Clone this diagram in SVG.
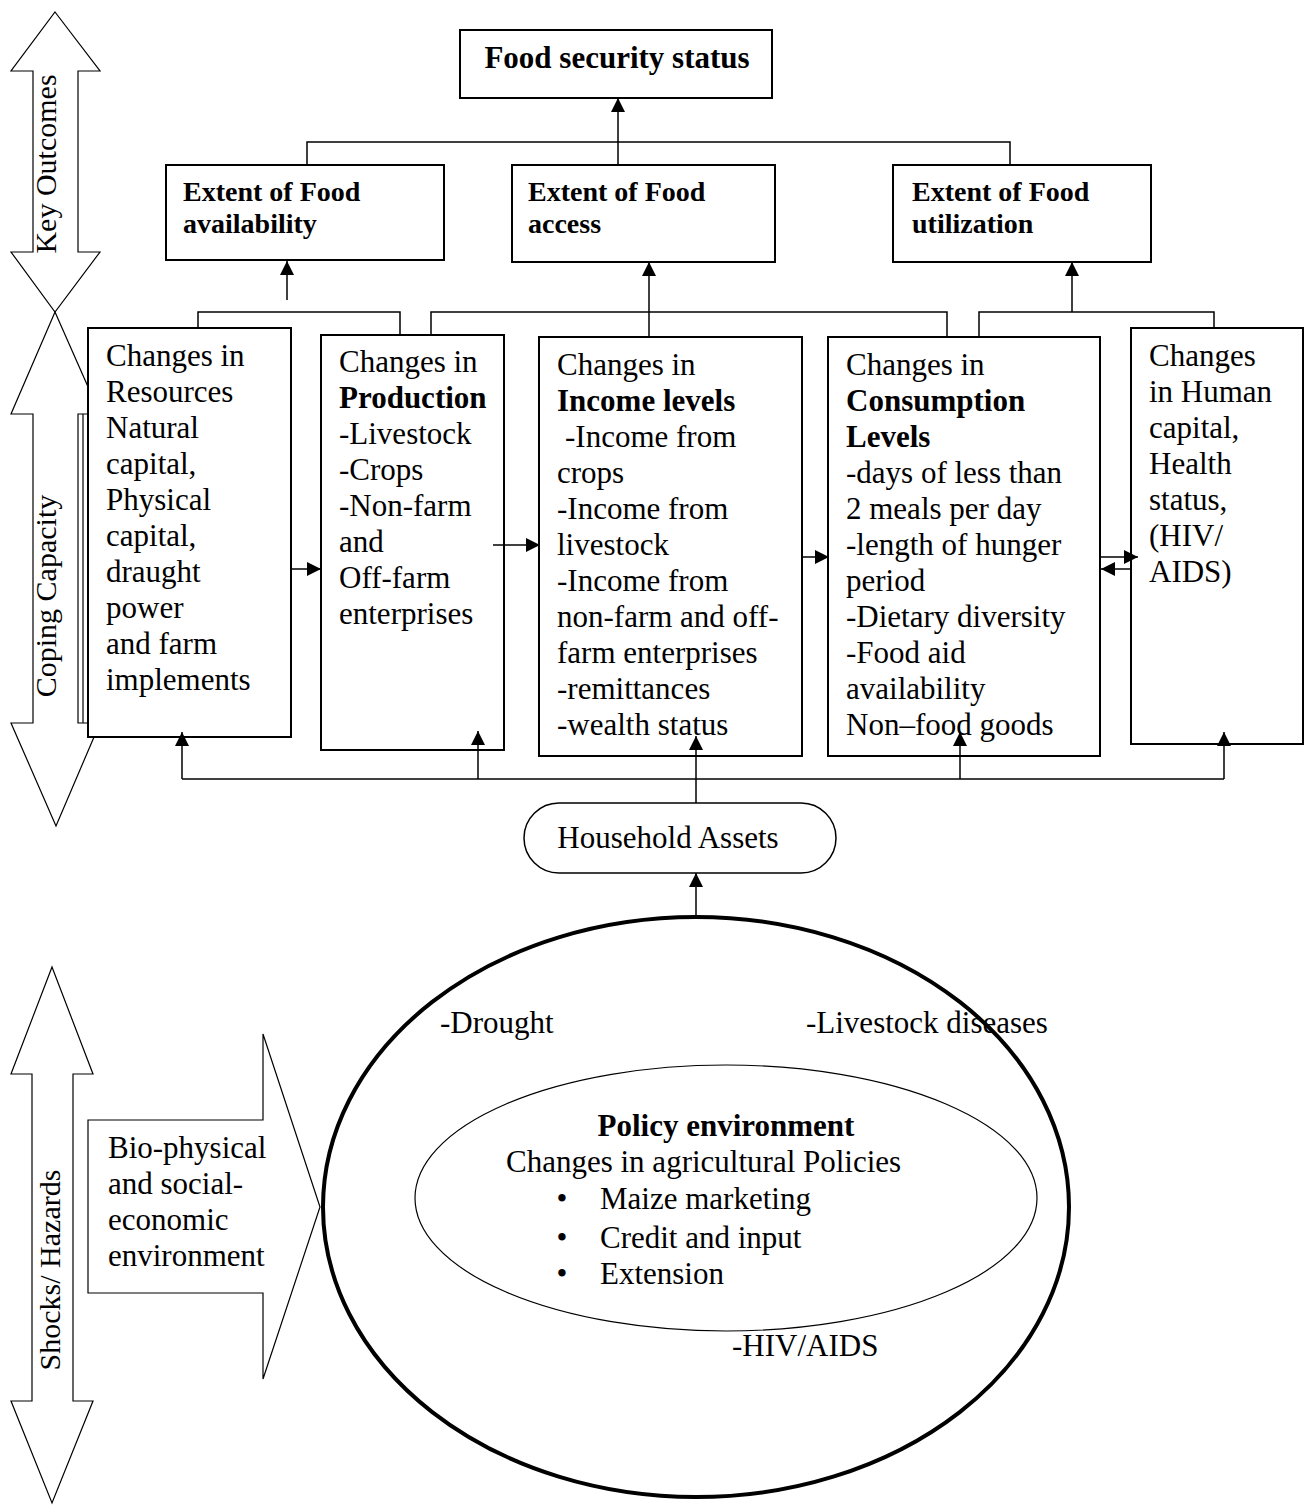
<svg xmlns="http://www.w3.org/2000/svg" width="1305" height="1506" viewBox="0 0 1305 1506">
<style>
  text { font-family: "Liberation Serif", "Times New Roman", serif; fill: #000; }
  .t { font-size: 31px; }
  .b { font-size: 31px; font-weight: bold; }
  .hb { font-size: 28px; font-weight: bold; }
  .lab { font-size: 30px; }
  .box { fill: #fff; stroke: #000; stroke-width: 2; }
  .blk { fill: none; stroke: #000; stroke-width: 1.2; }
  .con { fill: none; stroke: #000; stroke-width: 1.5; }
</style>
<defs>
  <marker id="ah" markerUnits="userSpaceOnUse" markerWidth="15" markerHeight="15" refX="14" refY="7" orient="auto">
    <path d="M0,0 L14,7 L0,14 z" fill="#000"/>
  </marker>
</defs>
<rect width="1305" height="1506" fill="#fff"/>

<!-- side block arrows -->
<g id="key-outcomes-arrow">
  <polygon class="blk" points="55,12 100,71 78,71 78,252 100,252 55,312 11,252 33,252 33,71 11,71"/>
  <text class="lab" transform="translate(56,164) rotate(-90)" text-anchor="middle">Key Outcomes</text>
</g>
<g id="coping-capacity-arrow">
  <polygon class="blk" points="55,312 100,414 78,414 78,723 100,723 56,826 11,723 33,723 33,414 11,414"/>
  <line class="blk" x1="83" y1="414" x2="83" y2="723"/>
  <text class="lab" transform="translate(56,596) rotate(-90)" text-anchor="middle">Coping Capacity</text>
</g>
<g id="shocks-arrow">
  <polygon class="blk" points="52,967 93,1074 73,1074 73,1401 93,1401 52,1503 11,1401 32,1401 32,1074 11,1074"/>
  <text class="lab" transform="translate(60,1270) rotate(-90)" text-anchor="middle">Shocks/ Hazards</text>
</g>
<g id="biophysical-arrow">
  <polygon class="blk" points="88,1120 263,1120 263,1034 320,1207 263,1379 263,1293 88,1293"/>
  <text class="t" x="108" y="1158">Bio-physical</text>
  <text class="t" x="108" y="1194">and social-</text>
  <text class="t" x="108" y="1230">economic</text>
  <text class="t" x="108" y="1266">environment</text>
</g>

<!-- top boxes -->
<g id="food-security">
  <rect class="box" x="460" y="30" width="312" height="68"/>
  <text class="b" x="617" y="68" text-anchor="middle">Food security status</text>
</g>
<g id="availability">
  <rect class="box" x="166" y="165" width="278" height="95"/>
  <text class="hb" x="183" y="201">Extent of Food</text>
  <text class="hb" x="183" y="233">availability</text>
</g>
<g id="access">
  <rect class="box" x="512" y="165" width="263" height="97"/>
  <text class="hb" x="528" y="201">Extent of Food</text>
  <text class="hb" x="528" y="233">access</text>
</g>
<g id="utilization">
  <rect class="box" x="893" y="165" width="258" height="97"/>
  <text class="hb" x="912" y="201">Extent of Food</text>
  <text class="hb" x="912" y="233">utilization</text>
</g>

<!-- middle boxes -->
<g id="resources">
  <rect class="box" x="88" y="328" width="203" height="409"/>
  <text class="t" x="106" y="366">Changes in</text>
  <text class="t" x="106" y="402">Resources</text>
  <text class="t" x="106" y="438">Natural</text>
  <text class="t" x="106" y="474">capital,</text>
  <text class="t" x="106" y="510">Physical</text>
  <text class="t" x="106" y="546">capital,</text>
  <text class="t" x="106" y="582">draught</text>
  <text class="t" x="106" y="618">power</text>
  <text class="t" x="106" y="654">and farm</text>
  <text class="t" x="106" y="690">implements</text>
</g>
<g id="production">
  <rect class="box" x="321" y="335" width="183" height="415"/>
  <text class="t" x="339" y="372">Changes in</text>
  <text class="b" x="339" y="408">Production</text>
  <text class="t" x="339" y="444">-Livestock</text>
  <text class="t" x="339" y="480">-Crops</text>
  <text class="t" x="339" y="516">-Non-farm</text>
  <text class="t" x="339" y="552">and</text>
  <text class="t" x="339" y="588">Off-farm</text>
  <text class="t" x="339" y="624">enterprises</text>
</g>
<g id="income">
  <rect class="box" x="539" y="337" width="263" height="419"/>
  <text class="t" x="557" y="375">Changes in</text>
  <text class="b" x="557" y="411">Income levels</text>
  <text class="t" x="565" y="447">-Income from</text>
  <text class="t" x="557" y="483">crops</text>
  <text class="t" x="557" y="519">-Income from</text>
  <text class="t" x="557" y="555">livestock</text>
  <text class="t" x="557" y="591">-Income from</text>
  <text class="t" x="557" y="627">non-farm and off-</text>
  <text class="t" x="557" y="663">farm enterprises</text>
  <text class="t" x="557" y="699">-remittances</text>
  <text class="t" x="557" y="735">-wealth status</text>
</g>
<g id="consumption">
  <rect class="box" x="828" y="337" width="272" height="419"/>
  <text class="t" x="846" y="375">Changes in</text>
  <text class="b" x="846" y="411">Consumption</text>
  <text class="b" x="846" y="447">Levels</text>
  <text class="t" x="846" y="483">-days of less than</text>
  <text class="t" x="846" y="519">2 meals per day</text>
  <text class="t" x="846" y="555">-length of hunger</text>
  <text class="t" x="846" y="591">period</text>
  <text class="t" x="846" y="627">-Dietary diversity</text>
  <text class="t" x="846" y="663">-Food aid</text>
  <text class="t" x="846" y="699">availability</text>
  <text class="t" x="846" y="735">Non–food goods</text>
</g>
<g id="human-capital">
  <rect class="box" x="1131" y="328" width="172" height="416"/>
  <text class="t" x="1149" y="366">Changes</text>
  <text class="t" x="1149" y="402">in Human</text>
  <text class="t" x="1149" y="438">capital,</text>
  <text class="t" x="1149" y="474">Health</text>
  <text class="t" x="1149" y="510">status,</text>
  <text class="t" x="1149" y="546">(HIV/</text>
  <text class="t" x="1149" y="582">AIDS)</text>
</g>

<g id="household-assets">
  <rect x="524" y="803" width="312" height="70" rx="35" ry="35" fill="#fff" stroke="#000" stroke-width="1.5"/>
  <text class="t" x="668" y="848" text-anchor="middle">Household Assets</text>
</g>

<g id="shocks-ellipse">
  <ellipse cx="696" cy="1207" rx="373" ry="290" fill="none" stroke="#000" stroke-width="4"/>
  <text class="t" x="440" y="1033">-Drought</text>
  <text class="t" x="806" y="1033">-Livestock diseases</text>
  <text class="t" x="732" y="1356">-HIV/AIDS</text>
</g>
<g id="policy-environment">
  <ellipse cx="726" cy="1198" rx="311" ry="133" fill="none" stroke="#000" stroke-width="1.2"/>
  <text class="b" x="726" y="1136" text-anchor="middle">Policy environment</text>
  <text class="t" x="506" y="1172">Changes in agricultural Policies</text>
  <text class="t" x="562" y="1209" text-anchor="middle">•</text>
  <text class="t" x="600" y="1209">Maize marketing</text>
  <text class="t" x="562" y="1248" text-anchor="middle">•</text>
  <text class="t" x="600" y="1248">Credit and input</text>
  <text class="t" x="562" y="1284" text-anchor="middle">•</text>
  <text class="t" x="600" y="1284">Extension</text>
</g>

<!-- connectors -->
<g id="connectors">
  <polyline class="con" points="307,165 307,142 1010,142 1010,165"/>
  <line class="con" x1="618" y1="165" x2="618" y2="98" marker-end="url(#ah)"/>
  <polyline class="con" points="198,329 198,312 400,312 400,335"/>
  <line class="con" x1="287" y1="300" x2="287" y2="261" marker-end="url(#ah)"/>
  <polyline class="con" points="431,335 431,312 947,312 947,337"/>
  <line class="con" x1="649" y1="337" x2="649" y2="262" marker-end="url(#ah)"/>
  <polyline class="con" points="979,337 979,312 1214,312 1214,329"/>
  <line class="con" x1="1072" y1="312" x2="1072" y2="262" marker-end="url(#ah)"/>
  <line class="con" x1="291" y1="569" x2="321" y2="569" marker-end="url(#ah)"/>
  <line class="con" x1="493" y1="545" x2="540" y2="545" marker-end="url(#ah)"/>
  <line class="con" x1="802" y1="557" x2="829" y2="557" marker-end="url(#ah)"/>
  <line class="con" x1="1100" y1="557" x2="1138" y2="557" marker-end="url(#ah)"/>
  <line class="con" x1="1131" y1="569" x2="1101" y2="569" marker-end="url(#ah)"/>
  <line class="con" x1="182" y1="779" x2="1224" y2="779"/>
  <line class="con" x1="182" y1="779" x2="182" y2="732" marker-end="url(#ah)"/>
  <line class="con" x1="478" y1="779" x2="478" y2="731" marker-end="url(#ah)"/>
  <line class="con" x1="960" y1="779" x2="960" y2="732" marker-end="url(#ah)"/>
  <line class="con" x1="1224" y1="779" x2="1224" y2="732" marker-end="url(#ah)"/>
  <line class="con" x1="696" y1="803" x2="696" y2="736" marker-end="url(#ah)"/>
  <line class="con" x1="696" y1="918" x2="696" y2="873" marker-end="url(#ah)"/>
</g>
</svg>
